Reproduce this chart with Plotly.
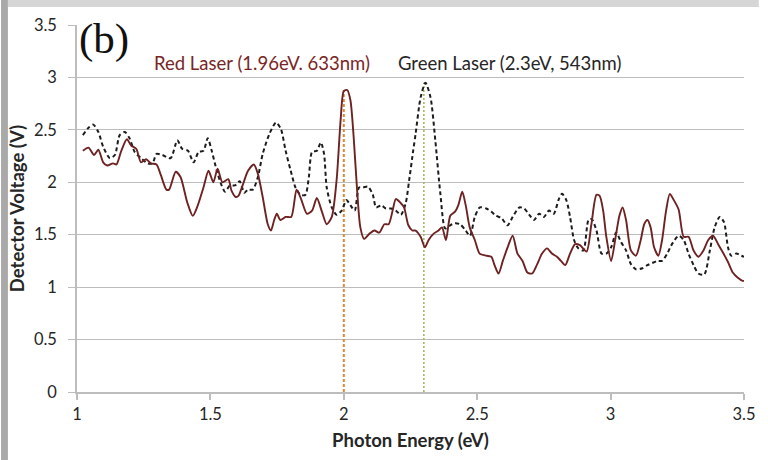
import plotly.graph_objects as go

# Photon energy (eV) and detector voltage (V) for the red-laser scan
red_energy = [1.022, 1.043, 1.064, 1.080, 1.098, 1.113, 1.135, 1.148, 1.166, 1.187,
              1.203, 1.222, 1.240, 1.259, 1.277, 1.298, 1.314, 1.335, 1.345, 1.370,
              1.388, 1.413, 1.434, 1.450, 1.474, 1.493, 1.511, 1.527, 1.545, 1.567,
              1.579, 1.595, 1.605, 1.622, 1.641, 1.663, 1.678, 1.696, 1.715, 1.727,
              1.739, 1.749, 1.762, 1.782, 1.803, 1.823, 1.840, 1.862, 1.881, 1.899,
              1.918, 1.936, 1.955, 1.973, 1.988, 2.000, 2.013, 2.025, 2.037, 2.050,
              2.062, 2.076, 2.096, 2.115, 2.133, 2.152, 2.168, 2.183, 2.195, 2.214,
              2.226, 2.242, 2.257, 2.269, 2.288, 2.304, 2.318, 2.337, 2.355, 2.368,
              2.383, 2.399, 2.417, 2.429, 2.444, 2.457, 2.472, 2.491, 2.509, 2.534,
              2.553, 2.565, 2.580, 2.596, 2.614, 2.633, 2.651, 2.670, 2.688, 2.706,
              2.725, 2.743, 2.762, 2.780, 2.799, 2.814, 2.830, 2.848, 2.867, 2.885,
              2.910, 2.928, 2.947, 2.959, 2.972, 2.984, 3.002, 3.019, 3.033, 3.045,
              3.058, 3.076, 3.095, 3.113, 3.126, 3.138, 3.150, 3.163, 3.179, 3.193,
              3.208, 3.222, 3.237, 3.255, 3.274, 3.292, 3.311, 3.329, 3.348, 3.366,
              3.384, 3.403, 3.421, 3.440, 3.458, 3.477, 3.495, 3.500]
red_voltage = [2.30, 2.33, 2.26, 2.31, 2.19, 2.16, 2.18, 2.17, 2.30, 2.41,
               2.35, 2.32, 2.19, 2.22, 2.18, 2.17, 2.07, 1.93, 1.93, 2.10,
               2.05, 1.81, 1.68, 1.76, 1.95, 2.11, 2.00, 2.13, 2.00, 2.03,
               1.92, 1.86, 1.87, 1.98, 2.11, 2.17, 2.08, 1.86, 1.60, 1.54,
               1.64, 1.70, 1.64, 1.67, 1.67, 1.93, 1.84, 1.70, 1.73, 1.85,
               1.72, 1.60, 1.67, 2.02, 2.59, 2.87, 2.88, 2.78, 2.43, 1.92,
               1.57, 1.46, 1.51, 1.54, 1.52, 1.60, 1.60, 1.73, 1.84, 1.80,
               1.76, 1.59, 1.54, 1.54, 1.48, 1.38, 1.45, 1.51, 1.54, 1.57,
               1.45, 1.68, 1.72, 1.78, 1.91, 1.78, 1.57, 1.45, 1.32, 1.30,
               1.29, 1.21, 1.13, 1.25, 1.38, 1.49, 1.32, 1.25, 1.14, 1.13,
               1.22, 1.32, 1.37, 1.32, 1.29, 1.25, 1.21, 1.32, 1.41, 1.40,
               1.34, 1.60, 1.88, 1.87, 1.73, 1.48, 1.25, 1.48, 1.68, 1.76,
               1.64, 1.35, 1.30, 1.45, 1.60, 1.64, 1.57, 1.38, 1.30, 1.45,
               1.73, 1.89, 1.83, 1.74, 1.48, 1.48, 1.35, 1.29, 1.35, 1.45,
               1.49, 1.41, 1.33, 1.24, 1.14, 1.09, 1.06, 1.06]

# Photon energy (eV) and detector voltage (V) for the green-laser scan
green_energy = [1.022, 1.043, 1.061, 1.080, 1.098, 1.123, 1.142, 1.160, 1.179, 1.197,
                1.216, 1.240, 1.265, 1.283, 1.298, 1.320, 1.351, 1.376, 1.394, 1.416,
                1.437, 1.456, 1.474, 1.490, 1.505, 1.524, 1.542, 1.555, 1.573, 1.592,
                1.610, 1.627, 1.641, 1.659, 1.678, 1.696, 1.721, 1.746, 1.764, 1.782,
                1.801, 1.819, 1.838, 1.856, 1.869, 1.881, 1.899, 1.914, 1.926, 1.936,
                1.955, 1.973, 1.992, 2.010, 2.025, 2.041, 2.057, 2.072, 2.090, 2.109,
                2.121, 2.140, 2.158, 2.177, 2.195, 2.214, 2.232, 2.245, 2.260, 2.269,
                2.288, 2.306, 2.325, 2.343, 2.362, 2.380, 2.399, 2.417, 2.436, 2.454,
                2.473, 2.491, 2.510, 2.534, 2.553, 2.571, 2.590, 2.614, 2.633, 2.658,
                2.676, 2.695, 2.713, 2.732, 2.750, 2.769, 2.787, 2.806, 2.818, 2.834,
                2.848, 2.863, 2.879, 2.898, 2.917, 2.929, 2.947, 2.966, 2.984, 3.002,
                3.021, 3.039, 3.058, 3.076, 3.095, 3.119, 3.138, 3.156, 3.175, 3.193,
                3.212, 3.230, 3.255, 3.274, 3.292, 3.311, 3.329, 3.351, 3.372, 3.390,
                3.409, 3.425, 3.440, 3.452, 3.471, 3.490, 3.500]
green_voltage = [2.45, 2.52, 2.55, 2.48, 2.34, 2.23, 2.26, 2.45, 2.48, 2.42,
                 2.29, 2.23, 2.18, 2.18, 2.27, 2.26, 2.23, 2.40, 2.32, 2.30,
                 2.19, 2.29, 2.30, 2.42, 2.30, 2.11, 1.97, 1.91, 1.97, 1.97,
                 2.01, 1.90, 1.93, 1.93, 2.05, 2.27, 2.46, 2.57, 2.51, 2.30,
                 2.11, 1.95, 1.88, 1.88, 2.05, 2.29, 2.30, 2.38, 2.27, 1.95,
                 1.76, 1.69, 1.73, 1.83, 1.78, 1.73, 1.95, 1.95, 1.96, 1.88,
                 1.76, 1.78, 1.75, 1.75, 1.73, 1.69, 1.80, 2.02, 2.30, 2.46,
                 2.81, 2.95, 2.81, 2.40, 1.89, 1.56, 1.59, 1.61, 1.60, 1.55,
                 1.49, 1.67, 1.76, 1.75, 1.72, 1.68, 1.66, 1.59, 1.67, 1.76,
                 1.75, 1.69, 1.64, 1.70, 1.67, 1.73, 1.70, 1.84, 1.89, 1.83,
                 1.67, 1.45, 1.37, 1.35, 1.64, 1.65, 1.54, 1.32, 1.32, 1.38,
                 1.52, 1.43, 1.35, 1.22, 1.17, 1.18, 1.21, 1.23, 1.25, 1.25,
                 1.32, 1.41, 1.49, 1.45, 1.32, 1.21, 1.13, 1.12, 1.35, 1.57,
                 1.67, 1.62, 1.38, 1.30, 1.32, 1.30, 1.29]

# Laser lines: energy position and height of the marker drop line
laser_energy = [2.0, 2.3]
laser_top = [2.88, 2.95]

x_ticks = [1, 1.5, 2, 2.5, 3, 3.5]
y_ticks = [0, 0.5, 1, 1.5, 2, 2.5, 3, 3.5]

W, H = 768, 460
ML, MR, MT, MB = 77, 15, 25, 68
FONT = "Lato, 'Open Sans', sans-serif"

fig = go.Figure()

# drop lines marking each laser energy
fig.add_trace(go.Scatter(
    x=[laser_energy[0], laser_energy[0]], y=[0, laser_top[0]], mode="lines",
    line=dict(color="#dc8a3a", width=2, dash="3px,2px"), hoverinfo="skip", showlegend=False))
fig.add_trace(go.Scatter(
    x=[laser_energy[1], laser_energy[1]], y=[0, laser_top[1]], mode="lines",
    line=dict(color="#9fbd5c", width=1.6, dash="2px,2px"), hoverinfo="skip", showlegend=False))

fig.add_trace(go.Scatter(
    x=green_energy, y=green_voltage, mode="lines", name="Green Laser",
    line=dict(color="#1c1c1c", width=2, dash="4px,3px", shape="spline", smoothing=0.7),
    showlegend=False))
fig.add_trace(go.Scatter(
    x=red_energy, y=red_voltage, mode="lines", name="Red Laser",
    line=dict(color="#6e2222", width=1.9, shape="spline", smoothing=0.7),
    showlegend=False))

# panel label and series labels
fig.add_annotation(x=1.0, y=3.37, xref="x", yref="y", text="(b)", showarrow=False,
                   xanchor="left", yanchor="middle",
                   font=dict(family="'Liberation Serif', 'DejaVu Serif', serif", size=43, color="#111111"))
fig.add_annotation(x=1.282, y=3.14, xref="x", yref="y", text="Red Laser (1.96eV. 633nm)",
                   showarrow=False, xanchor="left", yanchor="middle",
                   font=dict(family=FONT, size=18.5, color="#7a2525"))
fig.add_annotation(x=2.195, y=3.14, xref="x", yref="y", text="Green Laser (2.3eV, 543nm)",
                   showarrow=False, xanchor="left", yanchor="middle",
                   font=dict(family=FONT, size=18.5, color="#262626"))

# frame strips along the left and top edges of the page
pw = W - ML - MR
ph = H - MT - MB
fig.add_shape(type="rect", xref="paper", yref="paper", layer="above",
              x0=-ML / pw, x1=(7 - ML) / pw, y0=-MB / ph, y1=1 + MT / ph,
              fillcolor="#a9a9a9", line_width=0)
fig.add_shape(type="rect", xref="paper", yref="paper", layer="above",
              x0=(7 - ML) / pw, x1=1 + MR / pw, y0=1 + (MT - 7) / ph, y1=1 + MT / ph,
              fillcolor="#d6d6d6", line_width=0)

fig.update_layout(
    width=W, height=H,
    margin=dict(l=ML, r=MR, t=MT, b=MB),
    paper_bgcolor="white", plot_bgcolor="white",
    font=dict(family=FONT, size=16, color="#262626"),
    xaxis=dict(
        range=[1, 3.5], tickvals=x_ticks, ticktext=[f"{v:g}" for v in x_ticks],
        showgrid=False, zeroline=False, showline=True, linecolor="#bdbdbd", linewidth=1.5,
        ticks="outside", ticklen=6, tickcolor="#bdbdbd", tickwidth=1.5,
        tickfont=dict(size=16.5, color="#262626"),
        title=dict(text="<b>Photon Energy (eV)</b>", font=dict(size=18.5, color="#262626"), standoff=12),
    ),
    yaxis=dict(
        range=[0, 3.5], tickvals=y_ticks, ticktext=[f"{v:g}" for v in y_ticks],
        showgrid=True, gridcolor="#bdbdbd", gridwidth=1.3, zeroline=False,
        showline=True, linecolor="#bdbdbd", linewidth=1.5,
        ticks="outside", ticklen=7, tickcolor="#bdbdbd", tickwidth=1.3,
        tickfont=dict(size=16.5, color="#262626"), ticklabelstandoff=8,
        title=dict(text="<b>Detector Voltage (V)</b>", font=dict(size=18.5, color="#262626"), standoff=4),
    ),
)

fig.write_html("out.html")
